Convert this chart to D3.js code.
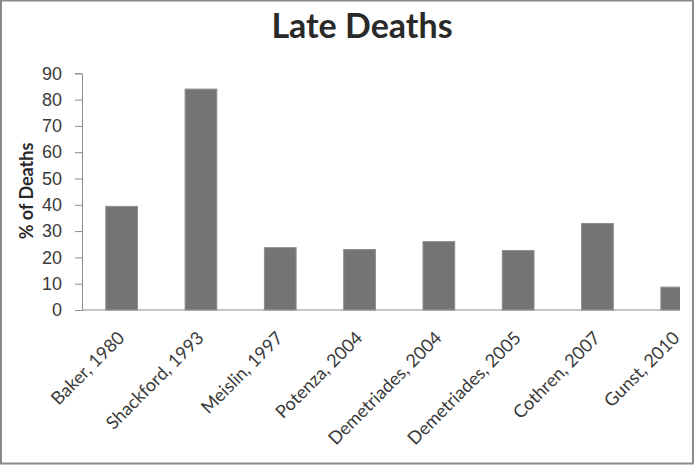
<!DOCTYPE html>
<html>
<head>
<meta charset="utf-8">
<script src="https://cdn.jsdelivr.net/npm/d3@7"></script>
<style>
  body { margin: 0; background: #fff; }
  svg { display: block; font-family: Lato, "Open Sans", sans-serif; }
</style>
</head>
<body>
<script>
'use strict';

// chart data
const studies = ["Baker, 1980", "Shackford, 1993", "Meislin, 1997", "Potenza, 2004",
  "Demetriades, 2004", "Demetriades, 2005", "Cothren, 2007", "Gunst, 2010"];
const lateDeaths = [39.4, 84.0, 23.7, 23.0, 26.0, 22.6, 32.9, 8.7];
const yTicks = [0, 10, 20, 30, 40, 50, 60, 70, 80, 90];

const width = 695;
const height = 465;

const svg = d3.select('body')
  .append('svg')
  .attr('width', width)
  .attr('height', height);

// outer frame
svg.append('rect')
  .attr('x', 1)
  .attr('y', 0.5)
  .attr('width', 692)
  .attr('height', 463)
  .attr('fill', '#fff')
  .attr('stroke', '#8a8a8a')
  .attr('stroke-width', 2);

// the plot runs past the right edge and is cut at 680 like the original
const plotLeft = 82;
const plotRight = 680;

const xScale = d3.scaleBand()
  .domain(studies)
  .range([plotLeft, plotLeft + 8 * 79.3])
  .paddingInner(0.6)
  .paddingOuter(0.3);

const yScale = d3.scaleLinear()
  .domain([0, 90])
  .range([310, 73.3]);

svg.append('clipPath')
  .attr('id', 'plotClip')
  .append('rect')
  .attr('x', plotLeft)
  .attr('y', 0)
  .attr('width', plotRight - plotLeft)
  .attr('height', height);

// bars
svg.append('g')
  .attr('clip-path', 'url(#plotClip)')
  .selectAll('rect')
  .data(lateDeaths)
  .enter()
  .append('rect')
  .attr('x', (d, i) => xScale(studies[i]))
  .attr('y', d => yScale(d))
  .attr('width', xScale.bandwidth())
  .attr('height', d => yScale(0) - yScale(d))
  .attr('fill', '#747474')
  .attr('stroke', '#8e8e8e')
  .attr('stroke-width', 1);

// y axis
let yAxis = d3.axisLeft(yScale)
  .tickValues(yTicks)
  .tickSize(7)
  .tickPadding(13);

let yG = svg.append('g')
  .attr('transform', 'translate(' + plotLeft + ', 0)')
  .call(yAxis);
yG.select('.domain').attr('stroke', '#8c8c8c');
yG.selectAll('.tick line').attr('stroke', '#8c8c8c');
yG.selectAll('.tick text')
  .style('font-size', '18px')
  .attr('fill', '#3a3a3a');

// x axis line, clipped to the visible plot width
svg.append('line')
  .attr('x1', plotLeft)
  .attr('x2', plotRight)
  .attr('y1', yScale(0))
  .attr('y2', yScale(0))
  .attr('stroke', '#8c8c8c');

// category labels rotated 45 degrees
svg.append('g')
  .selectAll('text')
  .data(studies)
  .enter()
  .append('text')
  .attr('transform', d => 'translate(' + (xScale(d) + xScale.bandwidth() / 2 + 4) + ', 339)rotate(-45)')
  .attr('text-anchor', 'end')
  .style('font-size', '18px')
  .attr('fill', '#3a3a3a')
  .text(d => d);

// title
svg.append('text')
  .attr('x', 362)
  .attr('y', 38)
  .attr('text-anchor', 'middle')
  .style('font-size', '34px')
  .style('font-weight', 'bold')
  .attr('fill', '#2a2a2a')
  .text('Late Deaths');

// y label
svg.append('text')
  .attr('transform', 'translate(33, 191)rotate(-90)')
  .attr('text-anchor', 'middle')
  .style('font-size', '18px')
  .style('font-weight', 'bold')
  .attr('fill', '#2a2a2a')
  .text('% of Deaths');
</script>
</body>
</html>
